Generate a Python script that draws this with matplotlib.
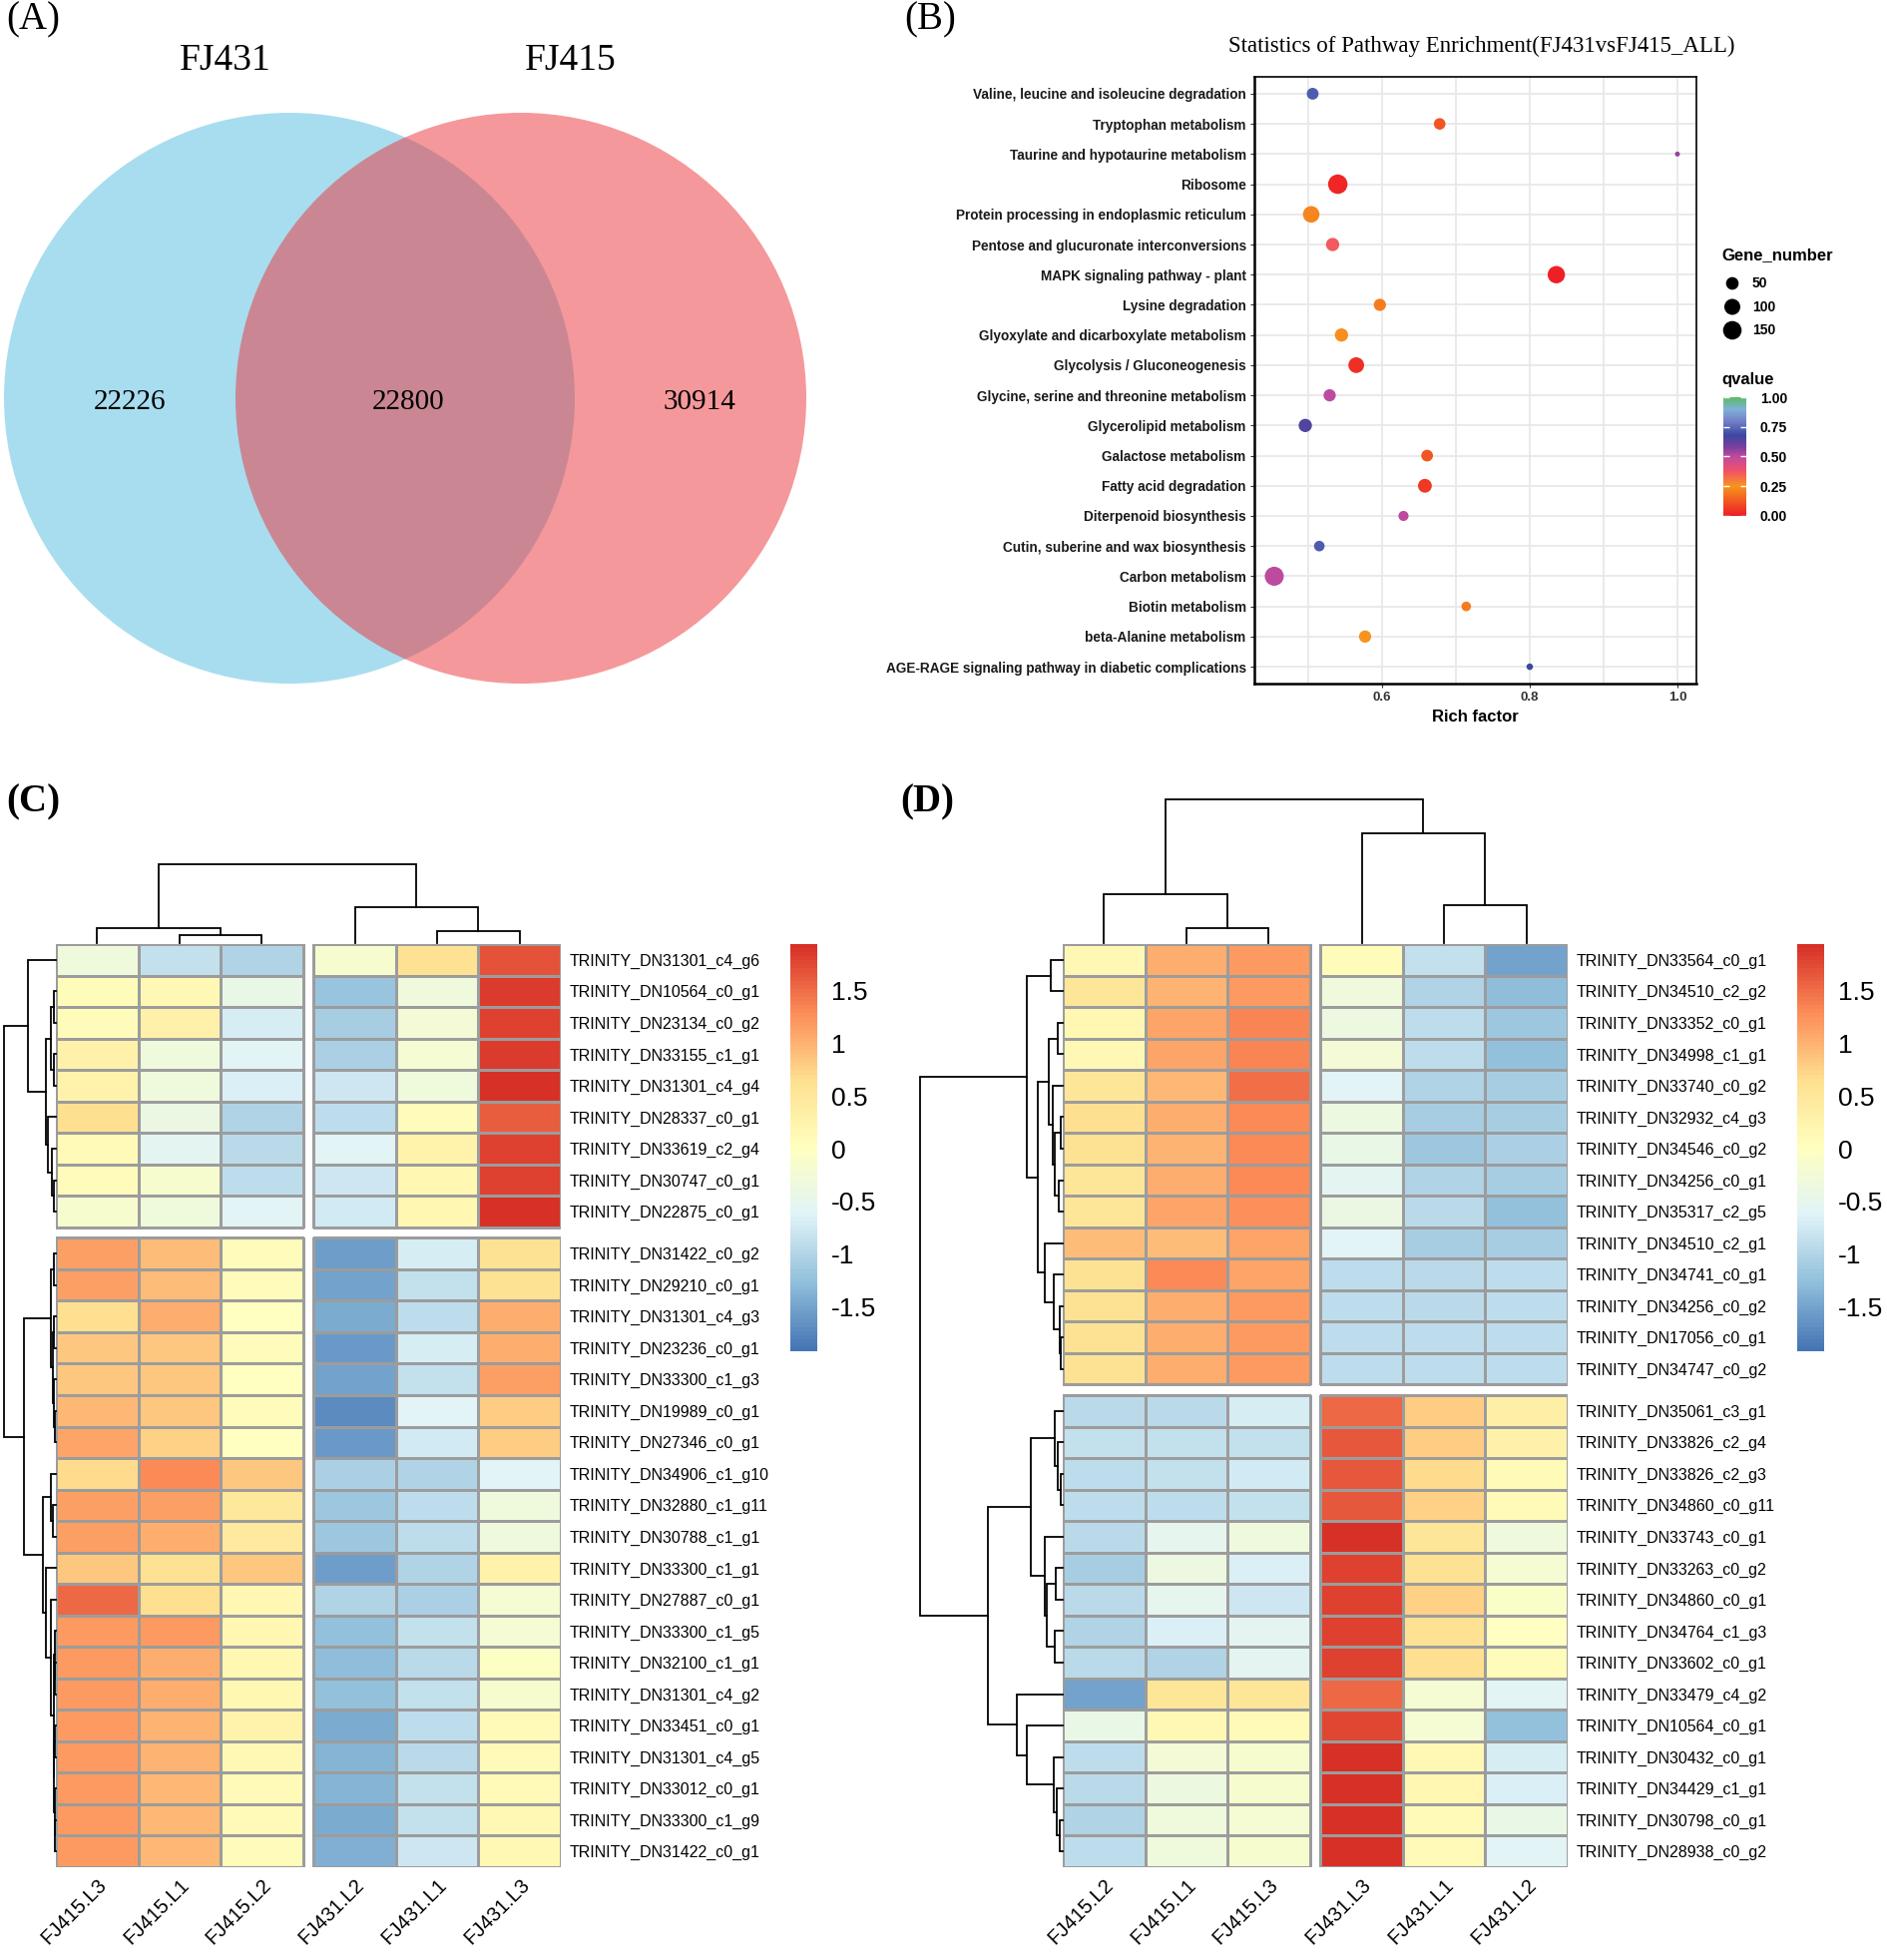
import numpy as np
import matplotlib
matplotlib.use('Agg')
import matplotlib.pyplot as plt
from matplotlib.colors import LinearSegmentedColormap, Normalize
from matplotlib.patches import Circle
from matplotlib.colorbar import ColorbarBase

W, H = 1891, 1964
DPI = 100
SERIF = ['Liberation Serif', 'DejaVu Serif']
SANS = ['Liberation Sans', 'DejaVu Sans']

# ---------------- data: (A) Venn ----------------
venn_names = ['FJ431', 'FJ415']
venn_counts = [22226, 22800, 30914]   # FJ431 only, shared, FJ415 only

# ---------------- data: (B) KEGG enrichment ----------------
pathways = ['Valine, leucine and isoleucine degradation', 'Tryptophan metabolism',
            'Taurine and hypotaurine metabolism', 'Ribosome',
            'Protein processing in endoplasmic reticulum',
            'Pentose and glucuronate interconversions', 'MAPK signaling pathway - plant',
            'Lysine degradation', 'Glyoxylate and dicarboxylate metabolism',
            'Glycolysis / Gluconeogenesis', 'Glycine, serine and threonine metabolism',
            'Glycerolipid metabolism', 'Galactose metabolism', 'Fatty acid degradation',
            'Diterpenoid biosynthesis', 'Cutin, suberine and wax biosynthesis',
            'Carbon metabolism', 'Biotin metabolism', 'beta-Alanine metabolism',
            'AGE-RAGE signaling pathway in diabetic complications']
rich_factor = [0.506, 0.678, 1.0, 0.540, 0.504, 0.533, 0.836, 0.597, 0.545, 0.565,
               0.529, 0.496, 0.661, 0.658, 0.629, 0.515, 0.454, 0.714, 0.577, 0.80]
gene_number = [40, 38, 3, 170, 110, 58, 125, 45, 58, 95, 45, 58, 39, 65, 24, 28, 160, 20, 45, 5]
qvalue = [0.72, 0.12, 0.55, 0.02, 0.22, 0.36, 0.01, 0.20, 0.24, 0.04, 0.50, 0.65, 0.12,
          0.06, 0.50, 0.72, 0.50, 0.20, 0.25, 0.68]
gene_legend = [50, 100, 150]
q_ticks = [0.0, 0.25, 0.5, 0.75, 1.0]
rich_ticks = [0.6, 0.8, 1.0]

# ---------------- data: (C) heatmap ----------------
c_cols = ['FJ415.L3', 'FJ415.L1', 'FJ415.L2', 'FJ431.L2', 'FJ431.L1', 'FJ431.L3']
c_rows = ['TRINITY_DN31301_c4_g6', 'TRINITY_DN10564_c0_g1', 'TRINITY_DN23134_c0_g2',
          'TRINITY_DN33155_c1_g1', 'TRINITY_DN31301_c4_g4', 'TRINITY_DN28337_c0_g1',
          'TRINITY_DN33619_c2_g4', 'TRINITY_DN30747_c0_g1', 'TRINITY_DN22875_c0_g1',
          'TRINITY_DN31422_c0_g2', 'TRINITY_DN29210_c0_g1', 'TRINITY_DN31301_c4_g3',
          'TRINITY_DN23236_c0_g1', 'TRINITY_DN33300_c1_g3', 'TRINITY_DN19989_c0_g1',
          'TRINITY_DN27346_c0_g1', 'TRINITY_DN34906_c1_g10', 'TRINITY_DN32880_c1_g11',
          'TRINITY_DN30788_c1_g1', 'TRINITY_DN33300_c1_g1', 'TRINITY_DN27887_c0_g1',
          'TRINITY_DN33300_c1_g5', 'TRINITY_DN32100_c1_g1', 'TRINITY_DN31301_c4_g2',
          'TRINITY_DN33451_c0_g1', 'TRINITY_DN31301_c4_g5', 'TRINITY_DN33012_c0_g1',
          'TRINITY_DN33300_c1_g9', 'TRINITY_DN31422_c0_g1']
c_vals = [
    [-0.30, -0.85, -1.00, -0.15, 0.60, 1.70],
    [0.05, 0.15, -0.45, -1.20, -0.30, 1.85],
    [0.05, 0.30, -0.70, -1.10, -0.25, 1.80],
    [0.30, -0.30, -0.60, -1.05, -0.20, 1.85],
    [0.25, -0.30, -0.65, -0.80, -0.30, 1.94],
    [0.65, -0.40, -1.00, -0.90, 0.05, 1.60],
    [0.10, -0.55, -0.95, -0.60, 0.25, 1.80],
    [0.05, -0.15, -0.90, -0.80, 0.20, 1.80],
    [-0.15, -0.30, -0.60, -0.75, 0.20, 1.94],
    [1.15, 0.90, 0.05, -1.55, -0.70, 0.60],
    [1.15, 0.90, 0.05, -1.50, -0.85, 0.60],
    [0.65, 1.05, 0.00, -1.45, -0.90, 1.05],
    [0.85, 0.85, 0.05, -1.60, -0.70, 1.05],
    [0.85, 0.85, 0.00, -1.50, -0.85, 1.15],
    [0.95, 0.85, 0.05, -1.70, -0.60, 0.80],
    [1.10, 0.75, 0.00, -1.60, -0.75, 0.80],
    [0.70, 1.30, 0.85, -1.05, -1.00, -0.60],
    [1.15, 1.15, 0.50, -1.15, -0.90, -0.30],
    [1.15, 1.05, 0.45, -1.15, -0.90, -0.30],
    [0.85, 0.60, 0.85, -1.55, -1.00, 0.25],
    [1.55, 0.65, 0.20, -1.00, -1.05, -0.20],
    [1.20, 1.20, 0.20, -1.25, -0.85, -0.20],
    [1.20, 1.05, 0.20, -1.30, -0.95, -0.05],
    [1.20, 1.05, 0.20, -1.25, -0.85, -0.15],
    [1.20, 1.00, 0.25, -1.45, -0.90, 0.10],
    [1.20, 1.00, 0.15, -1.35, -0.95, 0.10],
    [1.20, 0.95, 0.10, -1.35, -0.85, 0.10],
    [1.20, 0.95, 0.10, -1.45, -0.85, 0.15],
    [1.20, 0.95, 0.05, -1.40, -0.80, 0.15],
]
c_row_split = 9
c_col_split = 3
# dendrograms: (height, left, right); leaves are row / column indices
c_row_tree = (155,
              (85, 0, (30, (15, (7, 1, 2), (5, 3, 4)), (25, 5, (12, 6, (7, 7, 8))))),
              (97,
               (15, (5, 9, 10), (10, (5, 11, 12), (7, 13, (4, 14, 15)))),
               (40, (15, 16, (8, 17, 18)),
                (30, 19, (15, 20, (6, (4, 21, (3, 22, 23)),
                                   (5, (3, 24, 25), (3, 26, (2, 27, 28)))))))))
c_col_tree = (79, (15, 0, (8, 1, 2)), (36, 3, (12, 4, 5)))

# ---------------- data: (D) heatmap ----------------
d_cols = ['FJ415.L2', 'FJ415.L1', 'FJ415.L3', 'FJ431.L3', 'FJ431.L1', 'FJ431.L2']
d_rows = ['TRINITY_DN33564_c0_g1', 'TRINITY_DN34510_c2_g2', 'TRINITY_DN33352_c0_g1',
          'TRINITY_DN34998_c1_g1', 'TRINITY_DN33740_c0_g2', 'TRINITY_DN32932_c4_g3',
          'TRINITY_DN34546_c0_g2', 'TRINITY_DN34256_c0_g1', 'TRINITY_DN35317_c2_g5',
          'TRINITY_DN34510_c2_g1', 'TRINITY_DN34741_c0_g1', 'TRINITY_DN34256_c0_g2',
          'TRINITY_DN17056_c0_g1', 'TRINITY_DN34747_c0_g2', 'TRINITY_DN35061_c3_g1',
          'TRINITY_DN33826_c2_g4', 'TRINITY_DN33826_c2_g3', 'TRINITY_DN34860_c0_g11',
          'TRINITY_DN33743_c0_g1', 'TRINITY_DN33263_c0_g2', 'TRINITY_DN34860_c0_g1',
          'TRINITY_DN34764_c1_g3', 'TRINITY_DN33602_c0_g1', 'TRINITY_DN33479_c4_g2',
          'TRINITY_DN10564_c0_g1', 'TRINITY_DN30432_c0_g1', 'TRINITY_DN34429_c1_g1',
          'TRINITY_DN30798_c0_g1', 'TRINITY_DN28938_c0_g2']
d_vals = [
    [0.15, 1.05, 1.20, 0.05, -0.85, -1.50],
    [0.55, 1.00, 1.20, -0.30, -1.00, -1.30],
    [0.20, 1.10, 1.35, -0.35, -0.90, -1.15],
    [0.15, 1.10, 1.35, -0.25, -0.90, -1.25],
    [0.55, 0.95, 1.50, -0.60, -1.00, -1.10],
    [0.65, 1.05, 1.30, -0.35, -1.10, -1.10],
    [0.60, 1.00, 1.30, -0.45, -1.15, -1.05],
    [0.55, 1.05, 1.30, -0.55, -1.00, -1.10],
    [0.55, 1.10, 1.25, -0.40, -0.95, -1.25],
    [0.90, 0.90, 1.10, -0.60, -1.10, -1.10],
    [0.60, 1.30, 1.10, -0.90, -0.95, -0.90],
    [0.60, 1.05, 1.20, -0.90, -0.95, -0.90],
    [0.60, 1.05, 1.20, -0.90, -0.90, -0.90],
    [0.60, 1.05, 1.20, -0.90, -0.90, -0.90],
    [-0.95, -0.95, -0.70, 1.55, 0.80, 0.35],
    [-0.85, -0.85, -0.85, 1.65, 0.80, 0.30],
    [-0.90, -0.85, -0.75, 1.65, 0.70, 0.10],
    [-0.90, -0.90, -0.85, 1.65, 0.75, 0.10],
    [-0.95, -0.50, -0.30, 1.94, 0.55, -0.30],
    [-1.10, -0.35, -0.65, 1.80, 0.60, -0.20],
    [-0.95, -0.50, -0.80, 1.80, 0.75, -0.10],
    [-1.00, -0.65, -0.55, 1.80, 0.60, 0.00],
    [-0.95, -1.00, -0.55, 1.80, 0.65, 0.05],
    [-1.50, 0.55, 0.55, 1.55, -0.20, -0.60],
    [-0.45, 0.15, 0.10, 1.75, -0.20, -1.25],
    [-0.90, -0.25, -0.15, 1.94, 0.15, -0.70],
    [-0.95, -0.35, -0.15, 1.94, 0.20, -0.65],
    [-1.00, -0.30, -0.20, 1.94, 0.10, -0.45],
    [-0.90, -0.30, -0.15, 1.94, 0.10, -0.60],
]
d_row_split = 14
d_col_split = 3
d_row_tree = (430,
              (107, (35, 0, 1),
               (75, (43, (15, 2, 3), (30, 4, (23, (7, 5, 6), (13, 7, 8)))),
                (55, 9, (27, 10, (10, 11, (5, 12, 13)))))),
              (225,
               (95, (25, 14, (15, 15, (5, 16, 17))),
                (53, 18, (47, (20, 19, 20), (25, 21, 22)))),
               (137, 23, (109, 24, (27, 25, (17, 26, (10, 27, 28)))))))
d_col_tree = (144, (49, 0, (15, 1, 2)), (110, 3, (38, 4, 5)))

hm_ticks = [1.5, 1, 0.5, 0, -0.5, -1, -1.5]
hm_tick_labels = ['1.5', '1', '0.5', '0', '-0.5', '-1', '-1.5']
hm_vmin, hm_vmax = -1.92, 1.94

# ---------------- figure helpers ----------------
fig = plt.figure(figsize=(W / DPI, H / DPI), dpi=DPI)
fig.patch.set_facecolor('white')


def px_axes(x0, y0, x1, y1):
    return fig.add_axes([x0 / W, 1 - y1 / H, (x1 - x0) / W, (y1 - y0) / H])


def ftext(x, y, s, **kw):
    fig.text(x / W, 1 - y / H, s, **kw)


# panel letters
ftext(6, 20, '(A)', family=SERIF, fontsize=28, va='center', ha='left')
ftext(906, 20, '(B)', family=SERIF, fontsize=28, va='center', ha='left')
ftext(6, 804, '(C)', family=SERIF, fontsize=28, va='center', ha='left', fontweight='bold')
ftext(902, 804, '(D)', family=SERIF, fontsize=28, va='center', ha='left', fontweight='bold')

# ---------------- (A) Venn ----------------
axA = px_axes(0, 0, 820, 760)
axA.set_xlim(0, 820)
axA.set_ylim(760, 0)
axA.axis('off')
R = 286
cy = 399
cx = [290, 522]
axA.add_patch(Circle((cx[0], cy), R, facecolor='#52BDE0', alpha=0.5, edgecolor='none'))
axA.add_patch(Circle((cx[1], cy), R, facecolor='#EC3238', alpha=0.5, edgecolor='none'))
axA.text(226, 61, venn_names[0], family=SERIF, fontsize=27, ha='center', va='center')
axA.text(572, 61, venn_names[1], family=SERIF, fontsize=27, ha='center', va='center')
lab_x = [130, 409, 701]
for x, v in zip(lab_x, venn_counts):
    axA.text(x, cy + 4, str(v), family=SERIF, fontsize=21, ha='center', va='center')

# ---------------- (B) enrichment bubble plot ----------------
q_cmap = LinearSegmentedColormap.from_list('q', [
    (0.00, '#EE1C25'), (0.15, '#F26522'), (0.25, '#F7941D'), (0.38, '#F0506A'),
    (0.50, '#BE4A9E'), (0.58, '#7B3F9E'), (0.68, '#3B48A0'), (0.80, '#7480C8'),
    (0.90, '#7FB0D8'), (1.00, '#5DBB63')])
g = np.array(gene_number, float)
gmin, gmax = g.min(), g.max()


def diam_px(n):
    frac = np.clip((np.asarray(n, float) - gmin) / (gmax - gmin), 0, 1)
    return 5.0 + 14.5 * np.sqrt(frac)


def s_pts(n):
    return (diam_px(n) * 72 / DPI) ** 2


axB = px_axes(1257, 77, 1700, 685)
ny = len(pathways)
ypos = np.arange(ny)
axB.set_xlim(0.427, 1.0257)
axB.set_ylim(ny - 1 + 0.56, -0.56)
for xv in np.arange(0.5, 1.01, 0.1):
    axB.axvline(xv, color='#E8E8E8', lw=1.3, zorder=0)
for yv in ypos:
    axB.axhline(yv, color='#E8E8E8', lw=1.3, zorder=0)
axB.scatter(rich_factor, ypos, s=s_pts(gene_number), c=qvalue, cmap=q_cmap,
            vmin=0, vmax=1, edgecolors='none', zorder=3)
axB.set_yticks(ypos)
axB.set_yticklabels(pathways, family=SANS, fontsize=9.8, fontweight='bold', color='#1A1A1A')
axB.set_xticks(rich_ticks)
axB.set_xticklabels(['%.1f' % t for t in rich_ticks], family=SANS, fontsize=9.5,
                    fontweight='bold', color='#333333')
axB.tick_params(axis='both', length=3, width=0.8, color='#333333', pad=3)
for side, sp in axB.spines.items():
    sp.set_color('black')
    sp.set_linewidth(1.8 if side in ('left', 'bottom') else 1.2)
axB.set_xlabel('Rich factor', family=SANS, fontsize=12, fontweight='bold', labelpad=4)
ftext(1485, 46, 'Statistics of Pathway Enrichment(FJ431vsFJ415_ALL)', family=SERIF,
      fontsize=16.5, ha='center', va='center')

# size legend
ftext(1725, 256, 'Gene_number', family=SANS, fontsize=12, fontweight='bold', ha='left', va='center')
axL = px_axes(1720, 270, 1800, 345)
axL.set_xlim(1720, 1800)
axL.set_ylim(345, 270)
axL.axis('off')
leg_y = 284 + 23.5 * np.arange(len(gene_legend))
axL.scatter([1736] * len(gene_legend), leg_y, s=s_pts(gene_legend), color='black',
            edgecolors='none', clip_on=False)
for yy, gv in zip(leg_y, gene_legend):
    axL.text(1756, yy, str(gv), family=SANS, fontsize=10, fontweight='bold', ha='left',
             va='center')

# qvalue colorbar
ftext(1725, 381, 'qvalue', family=SANS, fontsize=12, fontweight='bold', ha='left', va='center')
axQ = px_axes(1727, 398, 1750, 517)
cbq = ColorbarBase(axQ, cmap=q_cmap, norm=Normalize(0, 1), orientation='vertical')
cbq.outline.set_visible(False)
cbq.set_ticks(q_ticks)
cbq.set_ticklabels(['%.2f' % t for t in q_ticks])
axQ.tick_params(axis='y', left=True, right=True, direction='in', color='white', length=4,
                width=1, pad=10)
for t in axQ.get_yticklabels():
    t.set_family(SANS)
    t.set_fontsize(10)
    t.set_fontweight('bold')

# ---------------- heatmaps ----------------
hm_cmap = LinearSegmentedColormap.from_list(
    'rdylbu', ['#4575B4', '#91BFDB', '#E0F3F8', '#FFFFBF', '#FEE090', '#FC8D59', '#D73027'], N=100)
hm_norm = Normalize(hm_vmin, hm_vmax)
LW = 1.3


def draw_tree(ax, node, leaf_pos, orient):
    if isinstance(node, int):
        return leaf_pos[node], 0.0
    h, left, right = node
    pl, hl = draw_tree(ax, left, leaf_pos, orient)
    pr, hr = draw_tree(ax, right, leaf_pos, orient)
    hs = [hl, h, h, hr]
    ps = [pl, pl, pr, pr]
    if orient == 'row':
        ax.plot(hs, ps, color='black', lw=LW, solid_joinstyle='miter', clip_on=False)
    else:
        ax.plot(ps, hs, color='black', lw=LW, solid_joinstyle='miter', clip_on=False)
    return (pl + pr) / 2, h


def heatmap(x0, x1, y0, y1, rows, cols, vals, rsplit, csplit, rtree, ctree,
            row_px_per_unit, cb_x):
    vals = np.array(vals, float)
    nr, nc = vals.shape
    gap_px = 10.5
    ax = px_axes(x0, y0, x1, y1)
    col_w = (x1 - x0 - gap_px) / nc
    row_h = (y1 - y0 - gap_px) / nr
    gc = gap_px / col_w
    gr = gap_px / row_h
    for (r0, r1) in [(0, rsplit), (rsplit, nr)]:
        for (c0, c1) in [(0, csplit), (csplit, nc)]:
            X = np.arange(c0, c1 + 1) + (gc if c0 >= csplit else 0)
            Y = np.arange(r0, r1 + 1) + (gr if r0 >= rsplit else 0)
            ax.pcolormesh(X, Y, vals[r0:r1, c0:c1], cmap=hm_cmap, norm=hm_norm,
                          edgecolors='#9C9C9C', linewidth=1.0)
    ax.set_xlim(0, nc + gc)
    ax.set_ylim(nr + gr, 0)
    for sp in ax.spines.values():
        sp.set_visible(False)
    rc = np.arange(nr) + 0.5 + np.where(np.arange(nr) >= rsplit, gr, 0)
    cc = np.arange(nc) + 0.5 + np.where(np.arange(nc) >= csplit, gc, 0)
    ax.yaxis.tick_right()
    ax.set_yticks(rc)
    ax.set_yticklabels(rows, family=SANS, fontsize=11.5)
    ax.set_xticks(cc)
    ax.set_xticklabels(cols, family=SANS, fontsize=14.5, rotation=45, ha='right',
                       va='top', rotation_mode='anchor')
    ax.tick_params(axis='both', length=0)
    ax.tick_params(axis='y', pad=6)
    ax.tick_params(axis='x', pad=6)

    # row dendrogram
    rh = rtree[0]
    wpx = rh * row_px_per_unit
    axr = px_axes(x0 - wpx, y0, x0, y1)
    axr.set_xlim(rh, 0)
    axr.set_ylim(nr + gr, 0)
    axr.axis('off')
    draw_tree(axr, rtree, rc, 'row')

    # column dendrogram
    ch = ctree[0]
    axc = px_axes(x0, y0 - ch - 1, x1, y0 - 1)
    axc.set_xlim(0, nc + gc)
    axc.set_ylim(0, ch)
    axc.axis('off')
    draw_tree(axc, ctree, cc, 'col')

    # colour legend
    axcb = px_axes(cb_x, y0, cb_x + 27, y0 + 408)
    cb = ColorbarBase(axcb, cmap=hm_cmap, norm=hm_norm, orientation='vertical')
    cb.outline.set_visible(False)
    cb.set_ticks(hm_ticks)
    cb.set_ticklabels(hm_tick_labels)
    axcb.tick_params(axis='y', length=0, pad=10)
    for t in axcb.get_yticklabels():
        t.set_family(SANS)
        t.set_fontsize(19)


heatmap(56, 562, 946, 1871, c_rows, c_cols, c_vals, c_row_split, c_col_split,
        c_row_tree, c_col_tree, 1 / 3, 792)
heatmap(1065, 1571, 946, 1871, d_rows, d_cols, d_vals, d_row_split, d_col_split,
        d_row_tree, d_col_tree, 1 / 3, 1801)

fig.savefig('out.png', dpi=DPI, facecolor='white')
